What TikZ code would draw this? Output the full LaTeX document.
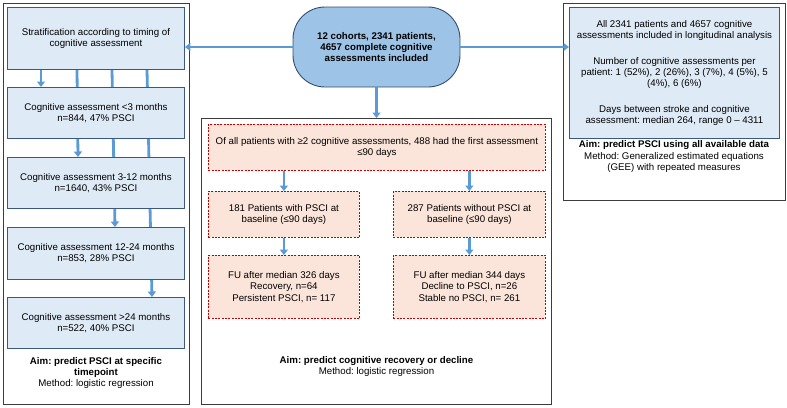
\documentclass[tikz,border=0pt]{standalone}
\usepackage{fontspec}
\setmainfont{Liberation Sans}
\usetikzlibrary{arrows.meta,calc,backgrounds}
\definecolor{arrblue}{HTML}{5B9BD5}
\definecolor{boxfill}{RGB}{222,234,246}
\definecolor{boxline}{RGB}{58,88,128}
\definecolor{pillfill}{RGB}{157,195,230}
\definecolor{pillline}{RGB}{50,78,115}
\definecolor{dashfill}{RGB}{251,229,218}
\definecolor{dashline}{RGB}{192,0,0}
\definecolor{outerline}{RGB}{60,60,60}
\newcommand{\fs}{\frenchspacing\fontsize{9.7}{11.3}\selectfont}
\begin{document}
\begin{tikzpicture}[x=1pt,y=-1pt,
  lbox/.style={draw=boxline, fill=boxfill, line width=0.9pt, align=center, inner sep=0pt, anchor=north west, font=\fs},
  dbox/.style={draw=dashline, fill=dashfill, line width=0.8pt, dash pattern=on 2pt off 1.3pt, align=center, inner sep=0pt, anchor=north west, font=\fs},
  outer/.style={draw=outerline, line width=1.1pt, inner sep=0pt, anchor=north west},
  pill/.style={draw=pillline, fill=pillfill, line width=0.9pt, rounded corners=32pt, align=center, inner sep=0pt, font=\fs\bfseries},
  aim/.style={align=center, inner sep=0pt, font=\fs},
  arr/.style={draw=arrblue, line width=2.8pt, -{Triangle[width=8pt,length=5.5pt]}},
]
\useasboundingbox (0,0) rectangle (787,407);

% outer boxes
\node[outer, minimum width=186, minimum height=401] (L) at (3,3) {};
\node[outer, minimum width=350, minimum height=286] (C) at (201,118) {};
\node[outer, minimum width=222, minimum height=197] (R) at (563,3) {};

% left column
\node[lbox, minimum width=177, minimum height=62] (s) at (7,7) {Stratification according to timing of\\cognitive assessment};
\node[lbox, minimum width=177, minimum height=51] (c1) at (7,87) {Cognitive assessment <3 months\\n=844, 47\% PSCI};
\node[lbox, minimum width=177, minimum height=51] (c2) at (7,157) {Cognitive assessment 3-12 months\\n=1640, 43\% PSCI};
\node[lbox, minimum width=177, minimum height=52] (c3) at (7,227) {Cognitive assessment 12-24 months\\n=853, 28\% PSCI};
\node[lbox, minimum width=177, minimum height=51] (c4) at (7,297) {Cognitive assessment >24 months\\n=522, 40\% PSCI};
\node[aim] (la) at (96,373) {\textbf{Aim: predict PSCI at specific}\\\textbf{timepoint}\\Method: logistic regression};

% top pill
\node[pill, minimum width=167, minimum height=80] (p) at (376.5,47) {12 cohorts, 2341 patients,\\4657 complete cognitive\\assessments included};

% right column
\node[lbox, minimum width=210, minimum height=131] (r) at (569,7) {All 2341 patients and 4657 cognitive\\assessments included in longitudinal analysis\\[14pt]Number of cognitive assessments per\\patient: 1 (52\%), 2 (26\%), 3 (7\%), 4 (5\%), 5\\(4\%), 6 (6\%)\\[14pt]Days between stroke and cognitive\\assessment: median 264, range 0 – 4311};
\node[aim] (ra) at (674,156.5) {\textbf{Aim: predict PSCI using all available data}\\Method: Generalized estimated equations\\(GEE) with repeated measures};

% center column
\node[dbox, minimum width=337, minimum height=46] (d0) at (208,124) {Of all patients with ≥2 cognitive assessments, 488 had the first assessment\\≤90 days};
\node[dbox, minimum width=151, minimum height=46] (d1) at (208,191) {181 Patients with PSCI at\\baseline (≤90 days)};
\node[dbox, minimum width=152, minimum height=46] (d2) at (393,191) {287 Patients without PSCI at\\baseline (≤90 days)};
\node[dbox, minimum width=151, minimum height=63] (d3) at (208,255) {FU after median 326 days\\Recovery, n=64\\Persistent PSCI, n= 117};
\node[dbox, minimum width=152, minimum height=63] (d4) at (393,255) {FU after median 344 days\\Decline to PSCI, n=26\\Stable no PSCI, n= 261};
\node[aim] (ca) at (376.5,366.5) {\textbf{Aim: predict cognitive recovery or decline}\\Method: logistic regression};

% connectors
\begin{pgfonlayer}{background}
\draw[arr] ([xshift=34pt]s.south west) -- ([xshift=34pt]c1.north west);
\draw[arr] ([xshift=70pt]s.south west) -- ([xshift=71pt]c2.north west);
\draw[arr] ([xshift=105pt]s.south west) -- ([xshift=108pt]c3.north west);
\draw[arr] ([xshift=140pt]s.south west) -- ([xshift=145pt]c4.north west);
\end{pgfonlayer}
\draw[arr] (p.west) -- (p.west -| s.east);
\draw[arr] (p.east) -- (p.east -| r.west);
\draw[arr] (p.south) -- (p.south |- C.north);
\draw[arr] (d0.south -| d1.north) -- (d1.north);
\draw[arr] (d0.south -| d2.north) -- (d2.north);
\draw[arr] (d1.south) -- (d3.north);
\draw[arr] (d2.south) -- (d4.north);
\end{tikzpicture}
\end{document}
